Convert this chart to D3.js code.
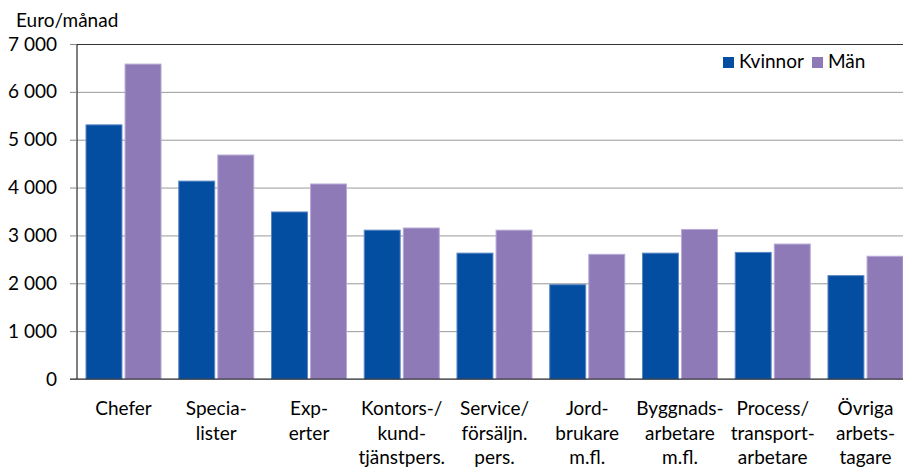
<!DOCTYPE html>
<html>
<head>
<meta charset="utf-8">
<script src="https://cdn.jsdelivr.net/npm/d3@7"></script>
<style>
    body { margin: 0; background: #fff; }
    svg text { font-family: Lato, "Noto Sans", sans-serif; fill: #000; }
</style>
</head>
<body>
<div id="chart"></div>
<script>
const categories = [
    ['Chefer'],
    ['Specia-', 'lister'],
    ['Exp-', 'erter'],
    ['Kontors-/', 'kund-', 'tjänstpers.'],
    ['Service/', 'försäljn.', 'pers.'],
    ['Jord-', 'brukare', 'm.fl.'],
    ['Byggnads-', 'arbetare', 'm.fl.'],
    ['Process/', 'transport-', 'arbetare'],
    ['Övriga', 'arbets-', 'tagare'],
];
const kvinnor = [5310, 4135, 3490, 3110, 2630, 1970, 2630, 2645, 2160];
const man = [6580, 4680, 4075, 3155, 3110, 2605, 3125, 2820, 2565];
const yTicks = [0, 1000, 2000, 3000, 4000, 5000, 6000, 7000];
const seriesNames = ['Kvinnor', 'Män'];
const colors = ['#044ea2', '#8f7ab8'];

const W = 903, H = 467;
const margin = { top: 44, left: 77 };
const width = W - margin.left;
const height = 379 - margin.top;
const fs = 19;

const svg = d3.select('#chart').append('svg')
    .attr('width', W).attr('height', H);
const g = svg.append('g')
    .attr('transform', 'translate(' + margin.left + ',' + margin.top + ')');

// the last group runs into the right edge, so the band range goes past it
const idx = d3.range(categories.length);
const x = d3.scaleBand().domain(idx).range([0, 835]).paddingInner(0.191).paddingOuter(0.097);
const x1 = d3.scaleBand().domain([0, 1]).range([0, x.bandwidth()]).paddingInner(0.08);
const y = d3.scaleLinear().domain([0, 7000]).range([height, 0]);

// gridlines
g.append('g')
    .call(d3.axisLeft(y).tickValues(yTicks).tickSize(-width).tickFormat(''))
    .call((s) => s.select('.domain').remove())
    .call((s) => s.selectAll('line').attr('stroke', '#9a9a9a'))
    .call((s) => s.selectAll('.tick').filter((d) => d === 7000).select('line').attr('stroke', '#333'));

// y axis
g.append('g')
    .call(d3.axisLeft(y).tickValues(yTicks).tickSize(7).tickPadding(13)
        .tickFormat((d) => d3.format(',')(d).replace(',', ' ')))
    .call((s) => s.select('.domain').attr('d', 'M0,0V' + height).attr('stroke', '#000'))
    .call((s) => s.selectAll('line').attr('stroke', '#888'))
    .call((s) => s.selectAll('text').attr('font-size', fs).attr('font-family', 'Lato'));

// bars
const series = [kvinnor, man];
series.forEach((vals, si) => {
    g.selectAll('.bar' + si)
        .data(vals)
        .enter()
        .append('rect')
        .attr('x', (d, i) => x(i) + x1(si))
        .attr('y', (d) => y(d))
        .attr('width', x1.bandwidth())
        .attr('height', (d) => y(0) - y(d))
        .attr('fill', colors[si])
        .attr('stroke', si === 0 ? '#5a86c4' : '#b8a9d6')
        .attr('stroke-width', 1);
});

// x axis baseline
g.append('line')
    .attr('x1', -7).attr('x2', width)
    .attr('y1', height).attr('y2', height)
    .attr('stroke', '#222').attr('stroke-width', 1.2);

// category labels
const lab = g.append('g');
categories.forEach((lines, i) => {
    const cx = x(i) + x.bandwidth() / 2;
    const t = lab.append('text')
        .attr('text-anchor', 'middle')
        .attr('font-size', fs)
        .attr('x', cx)
        .attr('y', height + 36);
    lines.forEach((l, j) => {
        t.append('tspan')
            .attr('x', cx)
            .attr('dy', j === 0 ? 0 : 24.5)
            .text(l);
    });
});

// unit label
svg.append('text')
    .attr('x', 16).attr('y', 27)
    .attr('font-size', fs)
    .text('Euro/månad');

// legend
const legend = svg.append('g').attr('transform', 'translate(723,57)');
const lx = [0, 89];
seriesNames.forEach((n, i) => {
    legend.append('rect')
        .attr('x', lx[i]).attr('y', 0)
        .attr('width', 11).attr('height', 11)
        .attr('fill', colors[i]);
    legend.append('text')
        .attr('x', lx[i] + 16).attr('y', 11)
        .attr('font-size', fs)
        .text(n);
});
</script>
</body>
</html>
